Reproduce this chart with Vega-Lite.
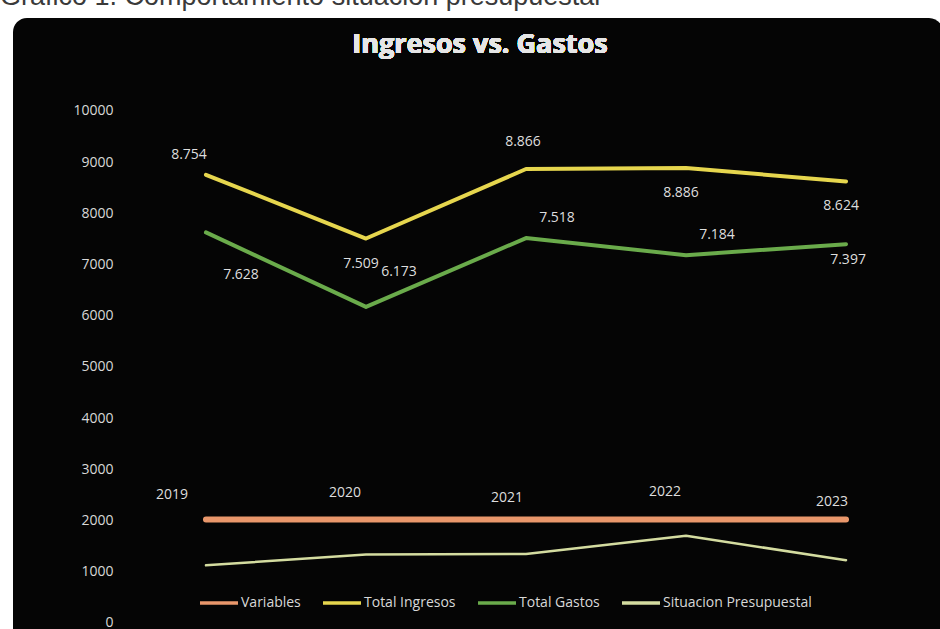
{
  "$schema": "https://vega.github.io/schema/vega-lite/v6.json",
  "autosize": {"type": "none"},
  "width": 930,
  "height": 625,
  "padding": {"left": 13, "top": 18, "right": 0, "bottom": 0},
  "background": "#ffffff",
  "title": {
    "text": "Gráfico 1. Comportamiento situación presupuestal",
    "anchor": "start",
    "frame": "group",
    "baseline": "bottom",
    "offset": 4,
    "dy": 24,
    "dx": -13,
    "fontSize": 27,
    "font": "Liberation Sans",
    "fontWeight": "normal",
    "color": "#3a3a3a"
  },
  "config": {
    "view": {"fill": "#050505", "stroke": null, "cornerRadius": 14},
    "locale": {"number": {"decimal": ",", "thousands": ".", "grouping": [3], "currency": ["$", ""]}},
    "text": {"font": "Open Sans", "fontSize": 14, "fill": "#dedede", "baseline": "middle", "align": "center"},
    "legend": {
      "orient": "none",
      "legendX": 185,
      "legendY": 564,
      "direction": "horizontal",
      "columns": 4,
      "symbolType": "stroke",
      "symbolSize": 1444,
      "symbolStrokeWidth": 3.5,
      "labelFont": "Open Sans",
      "labelFontSize": 14,
      "labelColor": "#d8d8d8",
      "labelOffset": 1,
      "columnPadding": 15,
      "title": null
    }
  },
  "data": {
    "values": [
      {"anio": 2019, "serie": "Variables", "valor": 2019},
      {"anio": 2020, "serie": "Variables", "valor": 2020},
      {"anio": 2021, "serie": "Variables", "valor": 2021},
      {"anio": 2022, "serie": "Variables", "valor": 2022},
      {"anio": 2023, "serie": "Variables", "valor": 2023},
      {"anio": 2019, "serie": "Total Ingresos", "valor": 8754},
      {"anio": 2020, "serie": "Total Ingresos", "valor": 7509},
      {"anio": 2021, "serie": "Total Ingresos", "valor": 8866},
      {"anio": 2022, "serie": "Total Ingresos", "valor": 8886},
      {"anio": 2023, "serie": "Total Ingresos", "valor": 8624},
      {"anio": 2019, "serie": "Total Gastos", "valor": 7628},
      {"anio": 2020, "serie": "Total Gastos", "valor": 6173},
      {"anio": 2021, "serie": "Total Gastos", "valor": 7518},
      {"anio": 2022, "serie": "Total Gastos", "valor": 7184},
      {"anio": 2023, "serie": "Total Gastos", "valor": 7397},
      {"anio": 2019, "serie": "Situacion Presupuestal", "valor": 1126},
      {"anio": 2020, "serie": "Situacion Presupuestal", "valor": 1336},
      {"anio": 2021, "serie": "Situacion Presupuestal", "valor": 1348},
      {"anio": 2022, "serie": "Situacion Presupuestal", "valor": 1702},
      {"anio": 2023, "serie": "Situacion Presupuestal", "valor": 1227}
    ]
  },
  "encoding": {
    "x": {"field": "anio", "type": "quantitative", "axis": null, "scale": {"domain": [2017.794, 2023.606], "nice": false, "zero": false}},
    "y": {"field": "valor", "type": "quantitative", "scale": {"domain": [-391, 11816], "nice": false, "zero": false},
      "axis": {"values": [0, 1000, 2000, 3000, 4000, 5000, 6000, 7000, 8000, 9000, 10000], "format": "d", "offset": -100, "labelPadding": 0, "ticks": false, "tickSize": 0, "domain": false, "grid": false, "title": null, "labelFont": "Open Sans", "labelFontSize": 14, "labelColor": "#d8d8d8"}}
  },
  "layer": [
    {
      "data": {"values": [{"v": 0}, {"v": 1000}, {"v": 2000}, {"v": 3000}, {"v": 4000}, {"v": 5000}, {"v": 6000}, {"v": 7000}, {"v": 8000}, {"v": 9000}, {"v": 10000}]},
      "mark": {"type": "rule", "color": "#2a2a2a", "strokeWidth": 1},
      "encoding": {
        "y": {"field": "v", "type": "quantitative", "axis": {"values": [0, 1000, 2000, 3000, 4000, 5000, 6000, 7000, 8000, 9000, 10000], "format": "d", "offset": -100, "labelPadding": 0, "ticks": false, "tickSize": 0, "domain": false, "grid": false, "title": null, "labelFont": "Open Sans", "labelFontSize": 14, "labelColor": "#d8d8d8"}},
        "x": {"datum": 2018.5, "type": "quantitative"},
        "x2": {"datum": 2023.5}
      }
    },
    {
      "transform": [{"filter": "datum.serie == 'Variables'"}],
      "mark": {"type": "line", "strokeCap": "round", "strokeWidth": 6},
      "encoding": {
        "color": {"field": "serie", "type": "nominal", "scale": {"domain": ["Variables", "Total Ingresos", "Total Gastos", "Situacion Presupuestal"], "range": ["#e9976b", "#e6d64e", "#6aab4b", "#d4dca0"]}}
      }
    },
    {
      "transform": [{"filter": "datum.serie == 'Total Ingresos' || datum.serie == 'Total Gastos'"}],
      "mark": {"type": "line", "strokeCap": "round", "strokeJoin": "round", "strokeWidth": 4},
      "encoding": {
        "color": {"field": "serie", "type": "nominal", "scale": {"domain": ["Variables", "Total Ingresos", "Total Gastos", "Situacion Presupuestal"], "range": ["#e9976b", "#e6d64e", "#6aab4b", "#d4dca0"]}}
      }
    },
    {
      "transform": [{"filter": "datum.serie == 'Situacion Presupuestal'"}],
      "mark": {"type": "line", "strokeCap": "round", "strokeJoin": "round", "strokeWidth": 2.5},
      "encoding": {
        "color": {"field": "serie", "type": "nominal", "scale": {"domain": ["Variables", "Total Ingresos", "Total Gastos", "Situacion Presupuestal"], "range": ["#e9976b", "#e6d64e", "#6aab4b", "#d4dca0"]}}
      }
    },
    {
      "transform": [{"filter": "datum.serie == 'Total Ingresos' && datum.anio == 2019"}],
      "mark": {"type": "text", "dx": -17, "dy": -20},
      "encoding": {"text": {"field": "valor", "type": "quantitative", "format": ",d"}}
    },
    {
      "transform": [{"filter": "datum.serie == 'Total Ingresos' && datum.anio == 2021"}],
      "mark": {"type": "text", "dx": -3, "dy": -27},
      "encoding": {"text": {"field": "valor", "type": "quantitative", "format": ",d"}}
    },
    {
      "transform": [{"filter": "datum.serie == 'Total Ingresos' && (datum.anio == 2020 || datum.anio == 2022 || datum.anio == 2023)"}],
      "mark": {"type": "text", "dx": -5, "dy": 25},
      "encoding": {"text": {"field": "valor", "type": "quantitative", "format": ",d"}}
    },
    {
      "transform": [{"filter": "datum.serie == 'Total Gastos' && datum.anio == 2019"}],
      "mark": {"type": "text", "dx": 35, "dy": 43},
      "encoding": {"text": {"field": "valor", "type": "quantitative", "format": ",d"}}
    },
    {
      "transform": [{"filter": "datum.serie == 'Total Gastos' && datum.anio == 2020"}],
      "mark": {"type": "text", "dx": 33, "dy": -35},
      "encoding": {"text": {"field": "valor", "type": "quantitative", "format": ",d"}}
    },
    {
      "transform": [{"filter": "datum.serie == 'Total Gastos' && (datum.anio == 2021 || datum.anio == 2022)"}],
      "mark": {"type": "text", "dx": 31, "dy": -20},
      "encoding": {"text": {"field": "valor", "type": "quantitative", "format": ",d"}}
    },
    {
      "transform": [{"filter": "datum.serie == 'Total Gastos' && datum.anio == 2023"}],
      "mark": {"type": "text", "dx": 2, "dy": 16},
      "encoding": {"text": {"field": "valor", "type": "quantitative", "format": ",d"}}
    },
    {
      "transform": [{"filter": "datum.serie == 'Variables' && datum.anio == 2019"}],
      "mark": {"type": "text", "dx": -34, "dy": -25},
      "encoding": {"text": {"field": "valor", "type": "quantitative", "format": "d"}}
    },
    {
      "transform": [{"filter": "datum.serie == 'Variables' && (datum.anio == 2020 || datum.anio == 2022)"}],
      "mark": {"type": "text", "dx": -21, "dy": -27},
      "encoding": {"text": {"field": "valor", "type": "quantitative", "format": "d"}}
    },
    {
      "transform": [{"filter": "datum.serie == 'Variables' && datum.anio == 2021"}],
      "mark": {"type": "text", "dx": -19, "dy": -22},
      "encoding": {"text": {"field": "valor", "type": "quantitative", "format": "d"}}
    },
    {
      "transform": [{"filter": "datum.serie == 'Variables' && datum.anio == 2023"}],
      "mark": {"type": "text", "dx": -14, "dy": -17},
      "encoding": {"text": {"field": "valor", "type": "quantitative", "format": "d"}}
    },
    {
      "mark": {"type": "text", "text": "Ingresos vs. Gastos", "fontSize": 27, "fontWeight": "bold", "fill": "#e6e6e6"},
      "encoding": {
        "x": {"datum": 2020.7125, "type": "quantitative"},
        "y": {"datum": 11289, "type": "quantitative"}
      }
    }
  ]
}
